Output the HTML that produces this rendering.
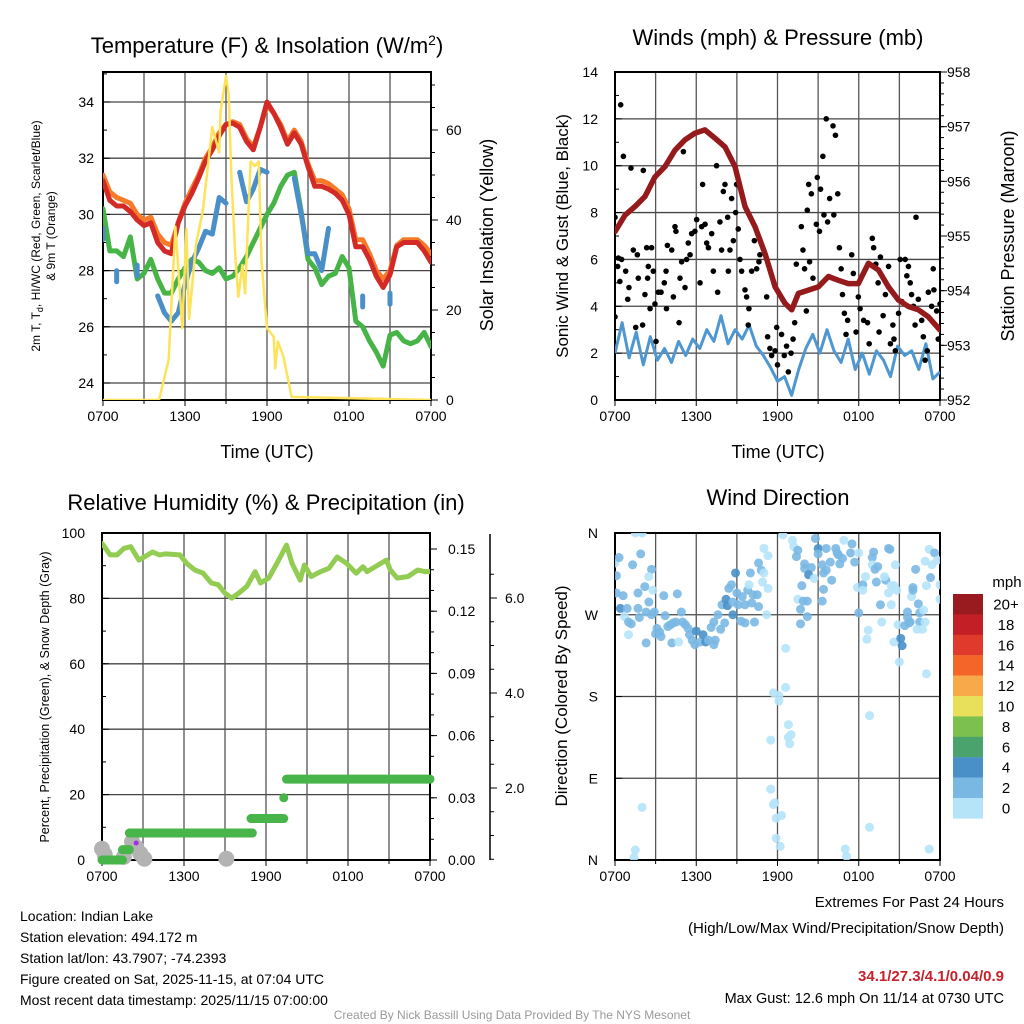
<!DOCTYPE html>
<html><head><meta charset="utf-8"><style>
html,body{margin:0;padding:0;background:#fff;}
svg{display:block;font-family:"Liberation Sans",sans-serif;}
</style></head><body>
<svg id="chart" width="1024" height="1024" viewBox="0 0 1024 1024" xmlns="http://www.w3.org/2000/svg">
<defs>
<clipPath id="c1"><rect x="103" y="72" width="328" height="328"/></clipPath>
<clipPath id="c2"><rect x="615" y="72" width="325" height="328"/></clipPath>
<clipPath id="c3"><rect x="102" y="533" width="328" height="327"/></clipPath>
<clipPath id="c4"><rect x="615" y="533" width="325" height="327"/></clipPath>
</defs>
<text x="267" y="53" font-size="22" text-anchor="middle">Temperature (F) &amp; Insolation (W/m<tspan dy="-8" font-size="14">2</tspan><tspan dy="8">)</tspan></text>
<text x="778" y="45" font-size="22" text-anchor="middle">Winds (mph) &amp; Pressure (mb)</text>
<text x="266" y="510" font-size="22" text-anchor="middle">Relative Humidity (%) &amp; Precipitation (in)</text>
<text x="778" y="505" font-size="22" text-anchor="middle">Wind Direction</text>
<text x="267" y="458" font-size="18" text-anchor="middle">Time (UTC)</text>
<text x="778" y="458" font-size="18" text-anchor="middle">Time (UTC)</text>
<text transform="translate(40,236) rotate(-90)" font-size="12" text-anchor="middle"><tspan x="0" dy="0">2m T, T<tspan font-size="9" dy="3">d</tspan><tspan dy="-3">, HI/WC (Red, Green, Scarlet/Blue)</tspan></tspan><tspan x="0" dy="15">&amp; 9m T (Orange)</tspan></text>
<text transform="translate(493,235) rotate(-90)" font-size="18" text-anchor="middle">Solar Insolation (Yellow)</text>
<text transform="translate(568,236) rotate(-90)" font-size="17" text-anchor="middle">Sonic Wind &amp; Gust (Blue, Black)</text>
<text transform="translate(1014,236) rotate(-90)" font-size="18" text-anchor="middle">Station Pressure (Maroon)</text>
<text transform="translate(49,697) rotate(-90)" font-size="12.5" text-anchor="middle">Percent, Precipitation (Green), &amp; Snow Depth (Gray)</text>
<text transform="translate(567,696) rotate(-90)" font-size="17" text-anchor="middle">Direction (Colored By Speed)</text>
<g font-size="14">
<text x="20" y="921">Location: Indian Lake</text>
<text x="20" y="942">Station elevation: 494.172 m</text>
<text x="20" y="963">Station lat/lon: 43.7907; -74.2393</text>
<text x="20" y="984">Figure created on Sat, 2025-11-15, at 07:04 UTC</text>
<text x="20" y="1005">Most recent data timestamp: 2025/11/15 07:00:00</text>
</g>
<g font-size="15" text-anchor="end">
<text x="1004" y="907">Extremes For Past 24 Hours</text>
<text x="1004" y="933">(High/Low/Max Wind/Precipitation/Snow Depth)</text>
<text x="1004" y="981" fill="#c8202a" font-weight="bold">34.1/27.3/4.1/0.04/0.9</text>
<text x="1004" y="1003" font-size="14.5">Max Gust: 12.6 mph On 11/14 at 0730 UTC</text>
</g>
<text x="512" y="1019" font-size="12" fill="#999" text-anchor="middle">Created By Nick Bassill Using Data Provided By The NYS Mesonet</text>
<text x="1007" y="587" font-size="15" text-anchor="middle">mph</text>
</svg>
<script>
// ---------- data ----------
const xTickLabels = ["0700","1300","1900","0100","0700"];
const tempTicks = [24,26,28,30,32,34];
const insolTicks = [0,20,40,60];
const windTicks = [0,2,4,6,8,10,12,14];
const pressTicks = [952,953,954,955,956,957,958];
const rhTicks = [0,20,40,60,80,100];
const precipTicks = [0,0.03,0.06,0.09,0.12,0.15];
const precipTickLabels = ["0.00","0.03","0.06","0.09","0.12","0.15"];
const snowTicks = [2,4,6];
const snowTickLabels = ["2.0","4.0","6.0"];
const dirTicks = [0,90,180,270,360];
const dirTickLabels = ["N","E","S","W","N"];

const tempRed = [31.2,30.5,30.3,30.3,30.1,29.8,29.6,29.7,29.0,28.7,28.6,29.7,30.3,30.75,31.3,31.9,32.3,32.8,33.2,33.25,33.1,32.6,32.3,33.1,34.0,33.6,33.1,32.5,32.9,32.5,31.7,31.0,31.0,30.9,30.75,30.5,30.0,28.85,28.85,28.4,27.8,27.4,27.85,28.85,29.0,29.0,29.0,28.7,28.3];
const tempOrange = [31.4,30.8,30.6,30.5,30.4,30.0,29.8,29.9,29.3,29.0,28.9,29.7,30.4,30.9,31.4,32.0,32.4,32.9,33.2,33.3,33.2,32.7,32.4,33.1,33.9,33.6,33.2,32.6,33.0,32.6,31.8,31.2,31.2,31.1,30.9,30.7,30.2,29.1,29.1,28.6,28.0,27.7,28.0,28.9,29.1,29.1,29.1,28.9,28.6];
const dewGreen = [30.2,28.7,28.7,28.5,29.2,27.7,27.9,28.4,27.7,27.2,27.2,27.7,28.1,28.4,28.3,28.0,27.9,28.1,27.7,27.8,28.1,28.5,29.0,29.5,30.0,30.4,31.0,31.4,31.5,30.1,28.4,28.1,27.5,27.8,27.9,28.5,28.1,26.2,26.0,25.5,25.1,24.6,25.7,25.8,25.5,25.4,25.5,25.8,25.3];
const windChillBlue = [29.3,null,27.8,null,null,28.0,null,null,27.1,26.5,26.2,26.5,27.5,28.3,28.8,29.4,29.3,30.6,30.4,null,31.5,30.45,30.9,31.6,31.5,null,null,null,31.3,30.0,28.6,28.6,28.0,29.5,null,null,null,null,26.9,null,null,null,27.0,null,null,null,null,null,null];
const insolTimes = [0,4.1,4.8,5.3,5.8,6.1,6.3,6.8,7.3,8.0,8.5,8.6,9.0,9.2,9.4,9.7,9.9,10.2,10.4,10.8,11.1,11.4,11.6,12.0,12.5,12.6,12.8,13.2,13.8,24];
const insolVals = [0,0,8.9,38.5,16,38,18,34.5,42,60.7,55,64,72,68,49,31,22.9,30,23.7,53,52,53,31,16,14,7,13,9.7,0.7,0];

const pressTimes = [0,0.74,1.48,2.21,2.95,3.69,4.43,5.17,5.9,6.64,7.38,8.12,8.86,9.6,10.34,11.08,11.82,12.55,13.05,13.54,14.28,15.02,15.76,16.5,17.23,17.97,18.71,19.45,20.19,20.93,21.67,22.4,23.14,24];
const pressVals = [955.08,955.38,955.54,955.72,956.08,956.27,956.57,956.76,956.88,956.94,956.79,956.63,956.27,955.54,955.17,954.68,954.07,953.77,953.65,953.95,954.01,954.07,954.26,954.19,954.13,954.13,954.50,954.38,954.07,953.83,953.71,953.65,953.52,953.28];
const sonicWind = [2.0,3.3,1.8,2.9,1.5,2.7,1.7,2.2,1.6,2.5,1.9,2.6,2.2,3.0,2.5,3.6,2.4,3.0,2.6,3.2,2.3,1.9,1.4,0.8,1.0,0.2,1.3,2.2,2.8,2.0,3.0,2.1,1.6,2.6,1.3,2.0,1.1,2.1,1.7,1.0,2.3,1.9,2.1,1.3,2.4,0.9,1.2];
const gustTimes = [0,0,0.42,0.62,0.25,0.49,0.2,0.36,0.79,0.94,1.18,1.03,1.35,1.53,1.65,1.72,2.04,2.09,2.21,2.34,2.41,2.46,2.7,2.59,2.83,2.95,3.03,3.2,3.4,3.64,3.77,3.87,3.8,4.19,4.31,4.43,4.5,4.73,4.8,4.92,5.05,5.17,5.29,5.41,5.54,5.66,5.9,6.03,6.28,6.4,6.47,6.65,6.77,6.9,7.14,7.26,7.5,7.58,7.75,7.87,8.0,8.12,8.32,8.37,8.49,8.61,8.74,8.91,8.98,9.1,9.23,9.35,9.6,9.72,9.89,9.84,10.09,10.29,10.46,10.63,10.7,11.2,11.27,11.44,11.57,11.82,11.94,12.0,12.3,12.5,12.67,12.8,13.0,13.15,13.27,13.39,13.76,13.88,14.0,14.13,14.2,14.3,14.37,14.5,14.62,14.87,14.94,15.1,15.18,15.35,15.43,15.6,15.7,15.85,16.1,16.16,16.28,16.45,16.57,16.7,16.8,16.94,17.06,17.18,17.48,17.6,17.8,17.97,18.1,18.36,18.65,18.77,19.0,19.1,19.26,19.43,19.5,19.6,19.8,19.97,20.2,20.34,20.52,20.6,20.7,20.94,21.06,21.18,21.43,21.55,21.67,21.8,21.9,22.04,22.16,22.23,22.4,22.65,22.77,22.9,23.06,23.14,23.38,23.5,23.55,23.75,23.87,24];
const gustVals = [3.55,7.8,12.6,10.4,6.06,6.0,5.7,5.06,5.5,4.3,9.9,4.8,6.4,3.1,6.2,5.2,3.2,9.8,4.5,6.5,5.2,5.7,6.5,3.9,5.5,4.1,2.5,4.6,4.6,5.0,5.5,6.6,3.9,6.4,4.4,7.4,7.2,3.3,5.2,5.9,10.6,4.8,6.0,6.7,6.2,7.1,7.2,7.7,5.0,7.4,9.2,7.5,6.7,6.5,7.1,5.5,10.0,4.6,7.6,6.4,8.9,9.2,7.8,5.5,6.4,8.6,6.8,8.0,9.2,7.3,6.0,5.5,4.7,4.4,3.9,3.2,5.5,6.8,5.6,5.9,6.2,4.4,2.7,2.2,1.9,2.1,3.1,1.5,2.8,1.9,2.3,1.2,2.0,2.6,3.3,5.8,7.4,6.4,5.6,3.8,8.1,9.2,5.9,8.8,5.2,7.5,9.5,7.2,9.0,10.4,7.9,12.0,7.6,8.6,11.7,7.9,11.3,8.8,6.5,5.6,4.5,3.7,2.8,3.4,6.2,5.4,2.9,4.4,3.9,3.4,3.3,2.4,6.9,6.5,5.8,5.0,2.9,6.1,3.6,4.5,5.7,2.4,3.2,2.6,2.1,3.7,6.0,4.2,6.0,5.3,5.7,5.0,4.5,4.0,3.2,7.8,4.3,3.4,2.7,1.7,2.1,4.6,4.0,5.6,4.7,3.8,2.6,4.1];

const rhVals = [96.8,93.3,93.3,95.3,95.8,91.7,92.7,94.2,93.3,93.6,93.3,90.7,88.7,87.7,84.7,84.2,81.6,80.1,81.6,83.7,88.2,84.7,86.2,90.7,96.3,90.7,85.6,90.2,86.7,88.2,89.2,92.7,90.7,87.7,89.7,88.2,90.2,91.7,88.7,86.2,86.7,88.7,88.2,88.2];
const rhTimes = [0,0.6,1.1,1.6,2.1,2.7,3.1,3.7,4.2,4.6,5.7,6.2,6.8,7.4,8.0,8.5,9.0,9.5,10.0,10.6,11.2,11.6,12.2,12.8,13.5,13.9,14.5,14.8,15.3,16.0,16.6,17.2,17.9,18.6,19.1,19.4,20.2,20.8,21.1,21.6,22.4,23.1,23.6,24];
const precipStart = [0,1.5,2.0,10.9,13.3,13.5];
const precipEnd = [1.5,2.0,11.0,13.3,13.3,24];
const precipVals = [0,0.005,0.013,0.02,0.03,0.039];
const snowTimes = [0,0.2,1.6,2.2,2.5,2.8,3.1,9.1];
const snowVals = [0.72,0.6,0.55,0.87,0.75,0.62,0.51,0.51];

// wind direction observations, grouped by time range
const dirTimes = [
 0.0,0.3,0.1,0.1,0.4,0.6,0.9,0.7,1.0,1.2,
 1.0,1.3,1.5,2.0,1.9,1.7,1.7,1.8,2.2,2.3,
 2.5,2.7,2.5,2.8,2.3,2.7,2.9,3.1,3.0,3.3,
 3.4,3.6,3.7,3.9,4.2,4.1,4.3,4.5,4.6,4.7,
 4.9,5.0,5.2,5.4,5.5,5.7,5.9,6.0,6.3,6.5,
 6.7,6.9,7.3,7.4,7.1,7.3,7.6,7.8,8.1,7.9,
 8.2,8.3,8.4,8.6,8.7,8.9,8.7,9.0,9.1,9.4,
 9.3,9.6,9.8,9.9,9.6,10.1,10.2,10.5,10.6,10.3,
 10.0,10.6,10.8,10.9,11.0,11.0,11.3,11.3,11.2,12.4,
 13.1,13.2,13.5,13.4,14.0,14.0,14.5,14.3,14.7,13.8,
 13.5,13.9,14.2,13.7,14.2,13.7,14.8,15.0,15.0,15.3,
 15.4,15.6,15.4,15.3,15.6,15.9,16.0,16.3,16.4,16.5,
 16.8,16.6,16.9,17.5,17.4,17.7,18.0,17.9,18.3,18.3,
 18.5,19.0,19.1,19.0,19.2,19.4,19.3,20.0,19.9,20.2,
 20.3,20.4,20.2,20.6,20.8,20.7,20.4,19.6,19.7,20.9,
 18.7,18.6,20.6,21.1,21.2,21.6,21.6,21.4,21.7,21.8,
 21.9,22.0,22.0,22.2,22.4,22.5,22.5,22.8,22.9,22.7,
 22.3,23.0,23.2,23.3,23.4,23.6,23.8,24.0,24.0,22.9,
 18.0,12.6,12.6,11.7,12.1,12.1,12.8,12.8,13.0,12.9,
 11.5,18.8,23.0,21.0,11.5,11.8,11.7,11.9,12.3,11.9,
 12.2,2.0,1.5,1.4,18.8,17.0,17.1,23.2];
const dirVals = [
 327,333,313,294,277,291,277,268,262,260,
 248,325,360,360,337,294,277,267,301,239,
 284,320,312,297,273,270,273,255,249,251,
 246,291,269,257,239,259,261,262,293,240,
 273,262,259,255,248,242,237,252,240,248,
 240,242,237,242,256,262,270,254,261,281,
 287,280,299,303,270,316,284,294,281,290,
 263,261,297,303,281,283,292,292,279,262,
 316,327,319,306,316,343,335,299,270,358,
 352,345,341,334,326,321,322,314,310,302,
 287,285,285,276,268,260,354,343,337,325,
 316,319,298,285,343,328,308,343,338,336,
 332,326,352,348,338,328,338,300,303,297,
 312,333,339,325,320,323,306,308,312,343,
 342,302,294,302,297,325,281,281,262,259,
 253,243,240,244,236,273,267,258,261,262,
 290,300,297,320,282,272,262,275,262,254,
 254,302,342,311,325,338,330,303,287,329,
 272,233,190,184,181,175,149,135,138,128,
 132,159,205,218,78,63,61,46,49,24,
 15,58,11,3,36,12,4,12];
const dirSpeed = [
 1,3,3,3,5,3,3,1,3,3,
 1,3,1,1,3,3,3,3,3,3,
 3,3,1,1,3,3,3,3,3,3,
 3,3,3,3,3,3,3,3,3,1,
 3,3,3,3,3,3,3,5,3,5,
 5,3,3,3,3,3,3,3,3,3,
 5,5,3,3,5,5,3,3,3,3,
 3,3,3,1,3,3,3,3,3,3,
 3,3,3,1,1,1,1,1,1,1,
 1,1,3,3,3,3,3,5,1,3,
 1,3,3,3,3,3,3,5,3,3,
 3,3,3,3,3,3,3,3,3,3,
 3,3,1,3,3,3,1,1,3,1,
 1,3,3,1,3,3,3,3,1,3,
 3,1,1,1,1,1,1,3,1,1,
 1,1,1,5,5,3,3,3,3,3,
 1,3,3,3,3,3,3,1,1,1,
 1,1,1,3,1,3,1,1,1,1,
 3,1,1,1,1,1,1,1,1,1,
 1,1,1,1,1,1,1,1,1,1,
 1,1,1,1,1,1,1,1];
const cbLabels = ["20+","18","16","14","12","10","8","6","4","2","0"];
const cbColors = ["#9a1b1f","#c21f27","#e03a2d","#f36529","#f8a94a","#e8e05a","#7cc04d","#4aa36d","#4a90c8","#7ab8e4","#b5e3f8"];

// ---------- helpers ----------
const NS = "http://www.w3.org/2000/svg";
const svg = document.getElementById("chart");
function mk(tag, attrs, parent){ const e=document.createElementNS(NS,tag); for(const k in attrs) e.setAttribute(k,attrs[k]); (parent||svg).appendChild(e); return e; }
function lin(d0,d1,r0,r1){ return v => r0+(v-d0)*(r1-r0)/(d1-d0); }
function idxTimes(n){ const a=[]; for(let i=0;i<n;i++) a.push(24*i/(n-1)); return a; }
function pathFrom(ts, vs, xs, ys){ let d="", pen=false; for(let i=0;i<ts.length;i++){ if(vs[i]==null){pen=false;continue;} d+=(pen?"L":"M")+xs(ts[i]).toFixed(1)+","+ys(vs[i]).toFixed(1); pen=true; } return d; }
function colorFor(s){ if(s==null||isNaN(s)) s=1; const idx = Math.max(0,Math.min(10, Math.floor(s/2))); return cbColors[10-idx]; }

function frame(x0,y0,x1,y1,name, hLines, vLines, ys){
  const g = mk("g",{});
  
  
  hLines.forEach(v=>{ const y=ys(v); mk("line",{x1:x0,x2:x1,y1:y,y2:y,stroke:"#444","stroke-width":1.3},g); });
  vLines.forEach(h=>{ const x=x0+(x1-x0)*h/24; mk("line",{x1:x,x2:x,y1:y0,y2:y1,stroke:"#555","stroke-width":1.3},g); });
  const r = mk("rect",{x:x0,y:y0,width:x1-x0,height:y1-y0,fill:"none",stroke:"#000","stroke-width":2});
  
  
}
function xAxis(x0,x1,yb,labY,name){
  const g = mk("g",{});
  
  
  for(let h=0;h<=24;h+=3){ const x=x0+(x1-x0)*h/24; mk("line",{x1:x,x2:x,y1:yb,y2:yb+(h%6==0?6:4),stroke:"#000","stroke-width":1},g); }
  xTickLabels.forEach((t,i)=>{ const x=x0+(x1-x0)*i*6/24; const e=mk("text",{x:x,y:labY,"font-size":14,"text-anchor":"middle"},g); e.textContent=t; });
}
function leftTicks(x0,ticks,labels,ys,labX,minorStep,lo,hi,name){
  const g = mk("g",{});
  
  
  if(minorStep){ for(let v=lo; v<=hi+1e-9; v+=minorStep){ const y=ys(v); mk("line",{x1:x0,x2:x0+4,y1:y,y2:y,stroke:"#000","stroke-width":1},g);} }
  ticks.forEach((v,i)=>{ const y=ys(v); mk("line",{x1:x0,x2:x0+7,y1:y,y2:y,stroke:"#000","stroke-width":1},g); const e=mk("text",{x:labX,y:y+5,"font-size":14,"text-anchor":"end"},g); e.textContent=labels[i]; });
}
function rightTicks(x0,ticks,labels,ys,labX,minorStep,lo,hi,name){
  const g = mk("g",{});
  
  
  if(minorStep){ for(let v=lo; v<=hi+1e-9; v+=minorStep){ const y=ys(v); mk("line",{x1:x0,x2:x0+4,y1:y,y2:y,stroke:"#000","stroke-width":1},g);} }
  ticks.forEach((v,i)=>{ const y=ys(v); mk("line",{x1:x0,x2:x0+7,y1:y,y2:y,stroke:"#000","stroke-width":1},g); const e=mk("text",{x:labX,y:y+5,"font-size":14,"text-anchor":"start"},g); e.textContent=labels[i]; });
}

// ---------- panel 1: temperature ----------
const xT = lin(0,24,103,431), yT = lin(24,34,383,102), yI = lin(0,60,400,130);
frame(103,72,431,400,"temperature",tempTicks,[3,6,9,12,15,18,21],yT);
xAxis(103,431,400,421,"temperature");
leftTicks(103,tempTicks,tempTicks.map(String),yT,94,1,24,35,"temperature-y-axis");
rightTicks(431,insolTicks,insolTicks.map(String),yI,446,5,0,70,"insolation-y-axis");
const g1 = mk("g",{"clip-path":"url(#c1)"});


let p;
p = mk("path",{d:pathFrom(idxTimes(tempOrange.length),tempOrange,xT,yT),fill:"none",stroke:"#f47b2a","stroke-width":5,"stroke-linejoin":"round","stroke-linecap":"round"},g1);


p = mk("path",{d:pathFrom(idxTimes(tempRed.length),tempRed,xT,yT),fill:"none",stroke:"#d42a27","stroke-width":5,"stroke-linejoin":"round","stroke-linecap":"round"},g1);


p = mk("path",{d:pathFrom(idxTimes(dewGreen.length),dewGreen,xT,yT),fill:"none",stroke:"#46b446","stroke-width":5,"stroke-linejoin":"round","stroke-linecap":"round"},g1);


p = mk("path",{d:pathFrom(idxTimes(windChillBlue.length),windChillBlue,xT,yT),fill:"none",stroke:"#4a8fc8","stroke-width":5,"stroke-linejoin":"round","stroke-linecap":"round"},g1);


const bt = idxTimes(windChillBlue.length);
windChillBlue.forEach((v,i)=>{ if(v==null) return; const prev=windChillBlue[i-1], next=windChillBlue[i+1]; if(prev==null && next==null){ const r=mk("rect",{x:xT(bt[i])-2.5,y:yT(v)-8,width:5,height:16,rx:2.5,fill:"#4a8fc8"},g1);

 } });
p = mk("path",{d:pathFrom(insolTimes,insolVals,xT,yI),fill:"none",stroke:"#fde35a","stroke-width":2.5,"stroke-linejoin":"round"},g1);



// ---------- panel 2: winds ----------
const xW = lin(0,24,615,940), yW = lin(0,14,400,72), yP = lin(952,958,400,72);
frame(615,72,940,400,"winds",[2,4,6,8,10,12],[3,6,9,12,15,18,21],yW);
xAxis(615,940,400,421,"winds");
leftTicks(615,windTicks,windTicks.map(String),yW,598,1,0,14,"wind-y-axis");
rightTicks(940,pressTicks,pressTicks.map(String),yP,947,0.2,952,958,"pressure-y-axis");
const g2 = mk("g",{"clip-path":"url(#c2)"});


p = mk("path",{d:pathFrom(idxTimes(sonicWind.length),sonicWind,xW,yW),fill:"none",stroke:"#4f97d0","stroke-width":3,"stroke-linejoin":"round"},g2);


gustTimes.forEach((t,i)=>{ const c=mk("circle",{cx:xW(t),cy:yW(gustVals[i]),r:2.8,fill:"#000"},g2);

 });
p = mk("path",{d:pathFrom(pressTimes,pressVals,xW,yP),fill:"none",stroke:"#951a1c","stroke-width":5.5,"stroke-linejoin":"round","stroke-linecap":"round"},g2);



// ---------- panel 3: humidity ----------
const xR = lin(0,24,102,430), yR = lin(0,100,860,533), yPr = lin(0,0.15,860,549), ySn = lin(0,2,883,788);
frame(102,533,430,860,"humidity",[20,40,60,80],[3,6,9,12,15,18,21],yR);
xAxis(102,430,860,881,"humidity");
leftTicks(102,rhTicks,rhTicks.map(String),yR,85,10,0,100,"humidity-y-axis");
rightTicks(430,precipTicks,precipTickLabels,yPr,448,0.01,0,0.15,"precipitation-y-axis");
const sl = mk("line",{x1:490,x2:490,y1:534,y2:860,stroke:"#000","stroke-width":1.5});


rightTicks(490,snowTicks,snowTickLabels,ySn,505,0.5,0.5,6.5,"snow-depth-y-axis");
snowTimes.forEach((t,i)=>{ const c=mk("circle",{cx:xR(t),cy:ySn(snowVals[i]),r:8,fill:"#b3b3b3"},svg);

 });
precipVals.forEach((v,i)=>{ const l=mk("line",{x1:xR(precipStart[i]),x2:xR(precipEnd[i]),y1:yPr(v),y2:yPr(v),stroke:"#47b549","stroke-width":9,"stroke-linecap":"round"},svg);

 });
const pd = mk("circle",{cx:xR(2.5),cy:843,r:2.5,fill:"#a030e0"});


const g3 = mk("g",{"clip-path":"url(#c3)"});


p = mk("path",{d:pathFrom(rhTimes,rhVals,xR,yR),fill:"none",stroke:"#93cc52","stroke-width":5,"stroke-linejoin":"round","stroke-linecap":"round"},g3);



// ---------- panel 4: wind direction ----------
const xD = lin(0,24,615,940), yD = lin(0,360,860,533);
frame(615,533,940,860,"direction",[90,180,270],[3,6,9,12,15,18,21],yD);
xAxis(615,940,860,881,"direction");
leftTicks(615,dirTicks,dirTickLabels,yD,598,0,0,0,"direction-y-axis");
const g4 = mk("g",{"clip-path":"url(#c4)"});


const nDir = Math.min(dirTimes.length, dirVals.length);
for(let i=0;i<nDir;i++){ const c=mk("circle",{cx:xD(dirTimes[i]),cy:yD(dirVals[i]),r:4.5,fill:colorFor(dirSpeed[i]),"fill-opacity":0.9},g4);

 }

// colorbar
const cb = mk("g",{});


cbLabels.forEach((t,i)=>{ const y=594+i*20.4; const r=mk("rect",{x:953,y:y,width:30,height:20.6,fill:cbColors[i]},cb);


const e=mk("text",{x:1006,y:y+15.5,"font-size":15,"text-anchor":"middle"},cb); e.textContent=t; });
</script>
</body></html>
